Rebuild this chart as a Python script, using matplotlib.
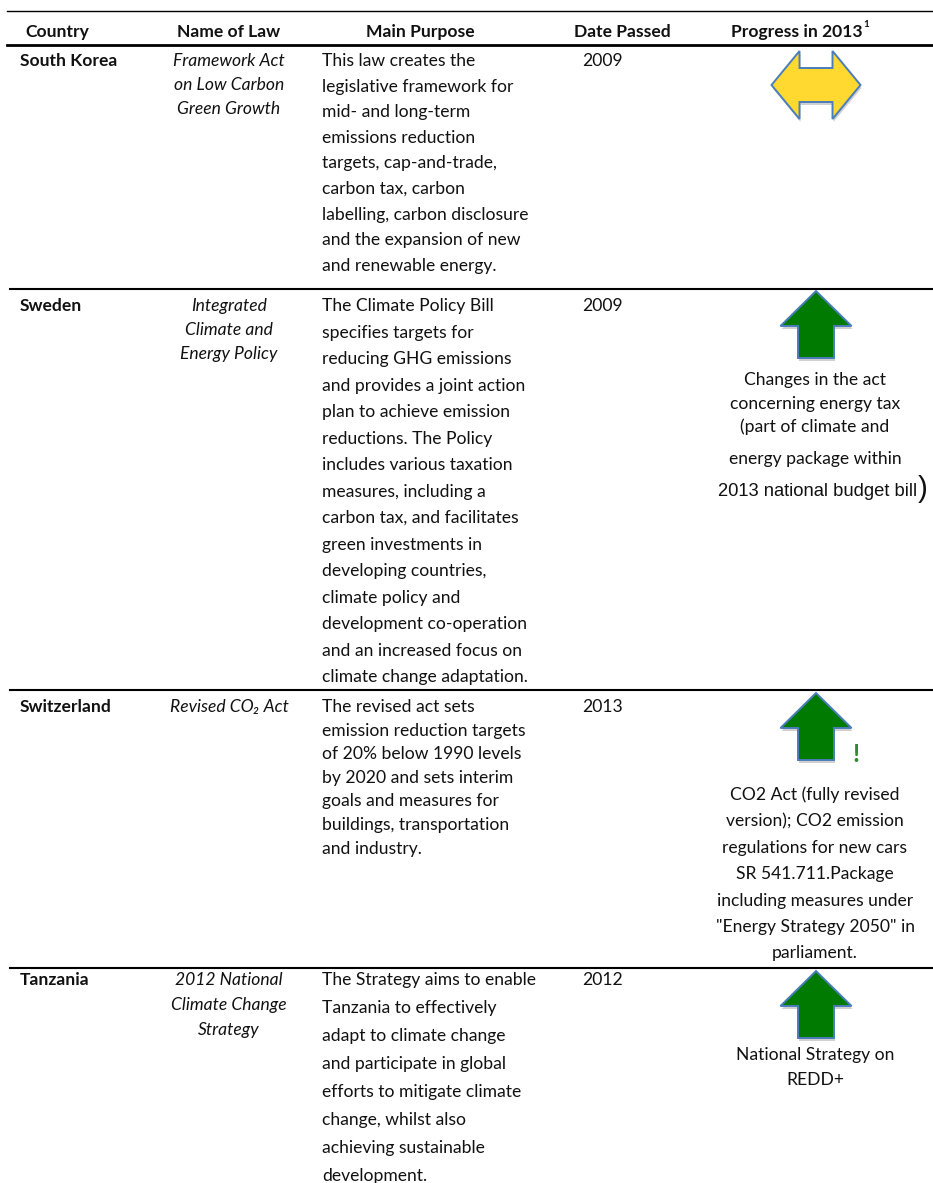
import matplotlib
matplotlib.use("Agg")
import matplotlib.pyplot as plt
from matplotlib.patches import Polygon

# ---------------- data ----------------
headers = ["Country", "Name of Law", "Main Purpose", "Date Passed", "Progress in 2013"]
header_note = "1"
countries = ["South Korea", "Sweden", "Switzerland", "Tanzania"]
law_names = [
    ["Framework Act", "on Low Carbon", "Green Growth"],
    ["Integrated", "Climate and", "Energy Policy"],
    ["Revised CO\u2082 Act"],
    ["2012 National", "Climate Change", "Strategy"],
]
purposes = [
    ["This law creates the", "legislative framework for", "mid- and long-term",
     "emissions reduction", "targets, cap-and-trade,", "carbon tax, carbon",
     "labelling, carbon disclosure", "and the expansion of new",
     "and renewable energy."],
    ["The Climate Policy Bill", "specifies targets for", "reducing GHG emissions",
     "and provides a joint action", "plan to achieve emission",
     "reductions. The Policy", "includes various taxation",
     "measures, including a", "carbon tax, and facilitates",
     "green investments in", "developing countries,", "climate policy and",
     "development co-operation", "and an increased focus on",
     "climate change adaptation."],
    ["The revised act sets", "emission reduction targets",
     "of 20% below 1990 levels", "by 2020 and sets interim",
     "goals and measures for", "buildings, transportation", "and industry."],
    ["The Strategy aims to enable", "Tanzania to effectively",
     "adapt to climate change", "and participate in global",
     "efforts to mitigate climate", "change, whilst also",
     "achieving sustainable", "development."],
]
dates = ["2009", "2009", "2013", "2012"]
progress_kind = ["both", "up", "up", "up"]
progress_flag = [False, False, True, False]
progress_notes = [
    [],
    ["Changes in the act", "concerning energy tax", "(part of climate and",
     "energy package within", "2013 national budget bill"],
    ["CO2 Act (fully revised", "version); CO2 emission",
     "regulations for new cars", "SR 541.711.Package",
     "including measures under", "\"Energy Strategy 2050\" in", "parliament."],
    ["National Strategy on", "REDD+"],
]

# ---------------- layout / style ----------------
W, H = 933, 1183
FONT = ["Lato", "DejaVu Sans"]
FS = 12.6
row_lines = [289, 690, 968]
row_first = [61, 306, 707, 980]
row_step = [25.6, 26.5, 23.6, 28.0]
name_step = [24.0, 24.0, 24.0, 25.0]
note_first = [None, 380, 795, 1055]
note_steps = [None, [0, 24, 47, 79, 111], 26.4, 25]
arrow_tip = [None, 291, 693, 971]

fig = plt.figure(figsize=(W / 100, H / 100), dpi=100)
ax = fig.add_axes([0, 0, 1, 1])
ax.set_xlim(0, W)
ax.set_ylim(H, 0)
ax.axis("off")

def txt(x, y, s, ha="left", color="#111111", **kw):
    kw.setdefault("family", FONT)
    kw.setdefault("fontsize", FS)
    ax.text(x, y, s, ha=ha, va="center", color=color, **kw)

# rules
ax.plot([7, W], [11, 11], color="black", lw=1.0)
ax.plot([7, W], [45, 45], color="black", lw=2.0)
for yl in row_lines:
    ax.plot([10, W], [yl, yl], color="black", lw=1.5)

# header
hx = [57, 229, 420, 622, 797]
for x, h in zip(hx, headers):
    txt(x, 32, h, ha="center", fontweight="bold")
txt(863, 24, header_note, fontsize=7, fontweight="bold")

def up_arrow(cx, tip, w=71, h=67, head=35, shaft=36):
    pts = [(cx, tip), (cx + w / 2, tip + head), (cx + shaft / 2, tip + head),
           (cx + shaft / 2, tip + h), (cx - shaft / 2, tip + h),
           (cx - shaft / 2, tip + head), (cx - w / 2, tip + head)]
    sh = [(x + 1, y + 3) for x, y in pts]
    ax.add_patch(Polygon(sh, closed=True, fc="#d0d0d0", ec="none", zorder=2))
    ax.add_patch(Polygon(pts, closed=True, fc="#007A00", ec="#4A7EBB", lw=1.4, zorder=3))

def both_arrow(cx, cy, w=89, h=68, head=28, shaft=34):
    l, r = cx - w / 2, cx + w / 2
    pts = [(l, cy), (l + head, cy - h / 2), (l + head, cy - shaft / 2),
           (r - head, cy - shaft / 2), (r - head, cy - h / 2), (r, cy),
           (r - head, cy + h / 2), (r - head, cy + shaft / 2),
           (l + head, cy + shaft / 2), (l + head, cy + h / 2)]
    sh = [(x + 1, y + 3) for x, y in pts]
    ax.add_patch(Polygon(sh, closed=True, fc="#d0d0d0", ec="none", zorder=2))
    ax.add_patch(Polygon(pts, closed=True, fc="#FFD92F", ec="#4A7EBB", lw=1.4, zorder=3))

for i in range(len(countries)):
    y0, st = row_first[i], row_step[i]
    txt(20, y0, countries[i], fontweight="bold")
    for j, s in enumerate(law_names[i]):
        txt(229, y0 + j * name_step[i], s, ha="center", style="italic")
    for j, s in enumerate(purposes[i]):
        txt(322, y0 + j * st, s)
    txt(582, y0, dates[i])
    if progress_kind[i] == "both":
        both_arrow(816, 85)
    else:
        up_arrow(816, arrow_tip[i])
    if progress_flag[i]:
        txt(856, arrow_tip[i] + 61, "!", ha="center", fontweight="bold",
            fontsize=18, color="#2E8B2E")
    notes = progress_notes[i]
    stp = note_steps[i]
    for j, s in enumerate(notes):
        yy = note_first[i] + (stp[j] if isinstance(stp, list) else j * stp)
        if i == 1 and j == len(notes) - 1:
            ax.text(818, yy, s, ha="center", va="center",
                    family=["Liberation Sans", "DejaVu Sans"], fontsize=13.2,
                    color="#111111")
            ax.text(918, yy - 2, ")", ha="left", va="center",
                    family=["Liberation Sans", "DejaVu Sans"], fontsize=21,
                    color="#111111")
        else:
            txt(815, yy, s, ha="center")

fig.savefig("out.png", dpi=100)
